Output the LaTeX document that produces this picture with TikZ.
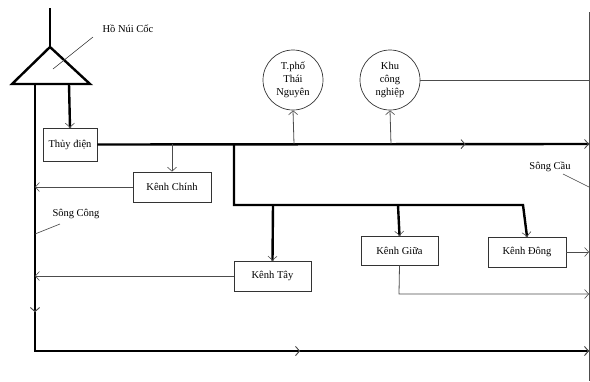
\documentclass[tikz,border=0pt]{standalone}
\usepackage{fontspec}
\setmainfont{Liberation Serif}
\usetikzlibrary{arrows.meta,decorations.markings}
\begin{document}
\begin{tikzpicture}[x=1pt,y=-1pt,
  >={Straight Barb[length=4pt,width=9pt,line width'=0.6pt,color=black!70]},
  every node/.style={font=\fontsize{10.5}{13}\selectfont},
  box/.style={draw=black!80,line width=0.8pt,minimum height=30pt,inner sep=0pt},
  circ/.style={draw=black!80,line width=0.7pt,circle,minimum size=60pt,inner sep=0pt,align=center},
  heavy/.style={line width=2.4pt,black},
  thinl/.style={line width=0.8pt,black!70},
  leader/.style={line width=0.6pt,black!75},
  midarr/.style={postaction={decorate},decoration={markings,mark=at position #1 with {\arrow{>}}}},
  endarr/.style={midarr=0.9999}]
\useasboundingbox (0,0) rectangle (590,381);

% nodes
\node[box,minimum width=54pt,minimum height=33pt] (thuy) at (70,144.5) {Thủy điện};
\node[box,minimum width=78pt] (chinh) at (172,187) {Kênh Chính};
\node[box,minimum width=77pt] (tay) at (272.5,276) {Kênh Tây};
\node[box,minimum width=77pt,minimum height=29pt] (giua) at (399.5,250.5) {Kênh Giữa};
\node[box,minimum width=78pt] (dong) at (527,252) {Kênh Đông};
\node[circ] (tp) at (293,80) {T.phố\\Thái\\Nguyên};
\node[circ] (khu) at (390,80) {Khu\\công\\nghiệp};

\node (ho) at (128,29) {Hồ Núi Cốc};
\node (scong) at (76,214) {Sông Công};
\node (scau) at (550,167) {Sông Cầu};

% coordinates
\coordinate (src) at (50,8);
\coordinate (apex) at (50,47);
\coordinate (bl) at (12,84);
\coordinate (br) at (90,84);
\coordinate (lt) at (35,84);
\coordinate (lb) at (35,351);
\coordinate (rb) at (589,351);
\coordinate (rt) at (589,12);
\coordinate (rbot) at (589,381);
\coordinate (tout) at (69,84);
\coordinate (me) at (589,144);
\coordinate (jc) at (172,144);
\coordinate (jb) at (234,144);
\coordinate (jtp) at (294,144);
\coordinate (jk) at (391,144);
\coordinate (bc) at (523,205);
\coordinate (tayj) at (273,205);
\coordinate (giuaj) at (398,205);
\coordinate (giuab) at (399,294);
\coordinate (giuae) at (589,294);
\coordinate (dongj) at (589,252);
\coordinate (khuj) at (589,80);
\coordinate (chinhj) at (35,187);
\coordinate (tayw) at (35,276);

% Sông Cầu (right river)
\draw[thinl] (rt) -- (rbot);

% lake and source
\draw[heavy] (src) -- (apex);
\draw[heavy,line join=miter] (apex) -- (bl) -- (br) -- cycle;

% Sông Công: left and bottom
\draw[heavy,midarr=228pt,midarr=532pt,endarr] (lt) -- (lb) -- (rb);

% to hydropower
\draw[heavy,endarr] (tout) -- (thuy.north);

% main canal
\draw[heavy,midarr=368pt,endarr] (thuy.east) -- (me);

% branch
\draw[heavy,endarr,line join=miter] (jb) |- (bc) -- (dong.north);
\draw[heavy,endarr] (tayj) -- (tay.north);
\draw[heavy,endarr] (giuaj) -- (giua.north);

% thin connectors
\draw[thinl,->] (jc) -- (chinh.north);
\draw[thinl,->] (chinh.west) -- (chinhj);
\draw[thinl,->] (tay.west) -- (tayw);
\draw[thinl,->] (giua.south) -- (giuab) -- (giuae);
\draw[thinl,->] (dong.east) -- (dongj);
\draw[thinl,->] (jtp) -- (tp.south);
\draw[thinl,->] (jk) -- (khu.south);
\draw[thinl] (khu.east) -- (khuj);

% leaders
\coordinate (hol) at (93,37);
\coordinate (hoe) at (53,69);
\draw[leader] (hol) -- (hoe);
\coordinate (scl) at (60,224);
\coordinate (sce) at (35,234);
\draw[leader] (scl) -- (sce);
\coordinate (sul) at (563,174);
\coordinate (sue) at (589,187);
\draw[leader] (sul) -- (sue);
\end{tikzpicture}
\end{document}
